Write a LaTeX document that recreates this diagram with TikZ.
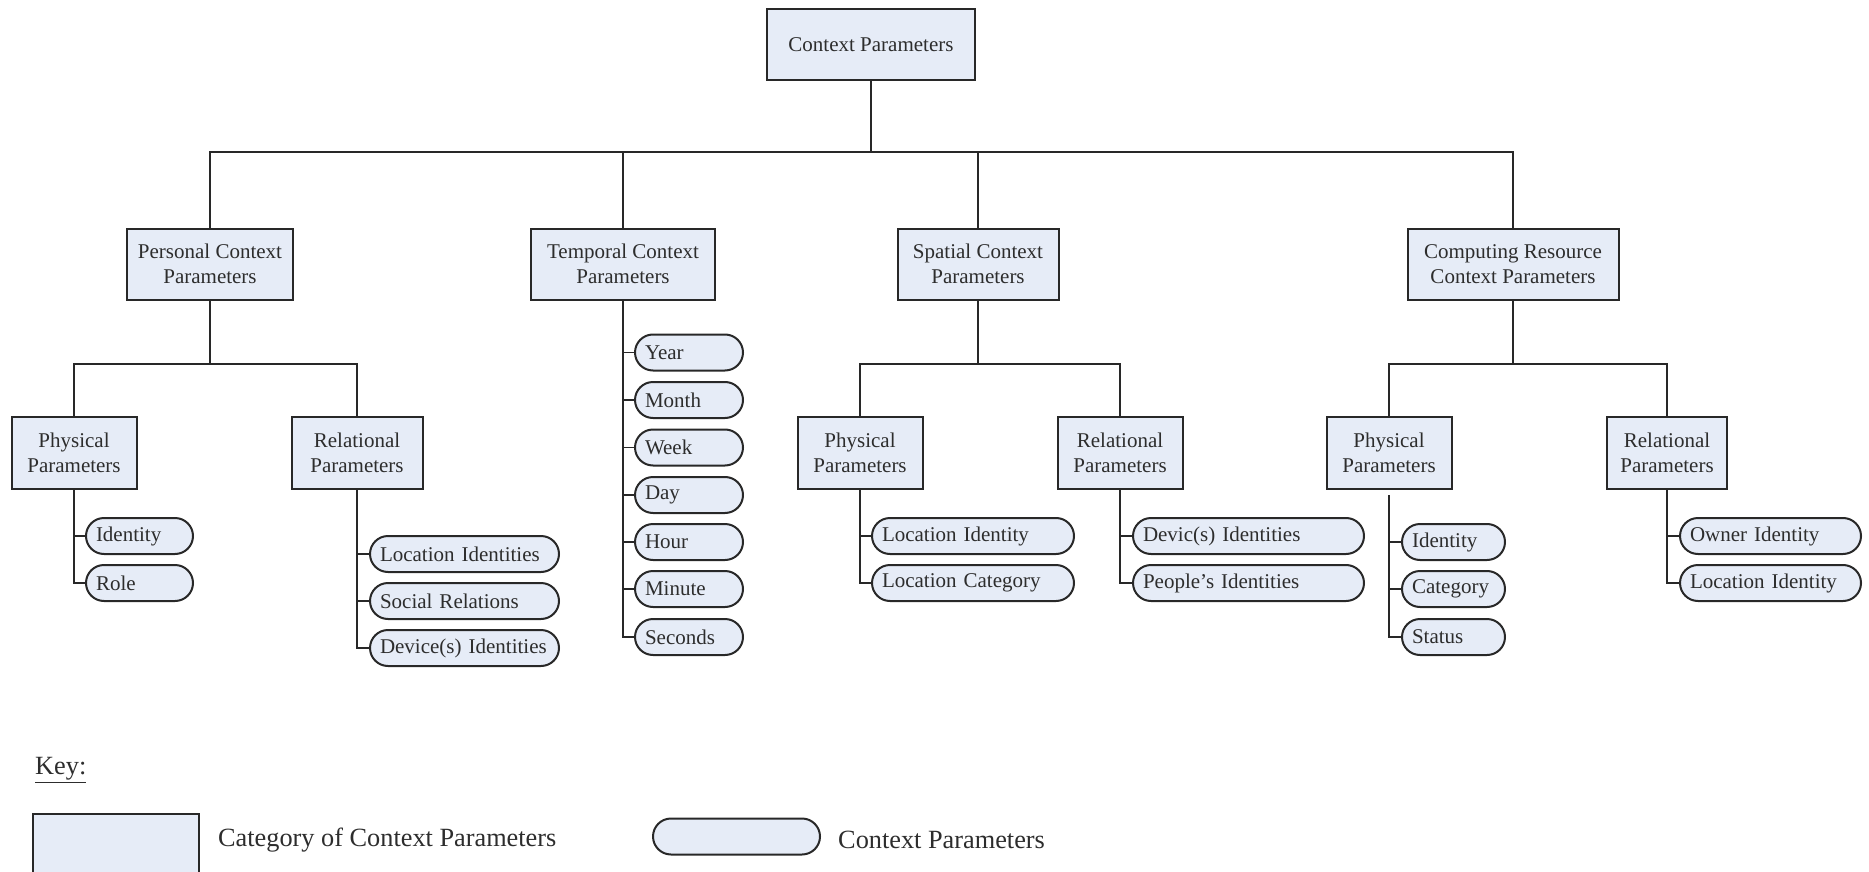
\documentclass[tikz,border=0pt]{standalone}
\usepackage{fontspec}
\setmainfont{Liberation Serif}
\definecolor{boxfill}{RGB}{230,236,247}
\definecolor{edge}{RGB}{40,40,40}
\definecolor{ink}{RGB}{45,45,45}
\begin{document}
\begin{tikzpicture}[x=1pt,y=-1pt,
  txt/.style={text=ink, font=\fontsize{21}{25}\selectfont},
  cat/.style={txt, draw=edge, fill=boxfill, line width=2pt, align=center,
    minimum height=71pt, minimum width=#1, inner sep=2pt},
  pill/.style={txt, draw=edge, fill=boxfill, line width=2pt, rounded corners=18pt,
    minimum height=36pt, anchor=west, inner xsep=10pt, inner ysep=0pt,
    text width=#1, align=left},
  label/.style={text=ink, font=\fontsize{26.3}{30}\selectfont, inner sep=0pt, anchor=west},
  link/.style={draw=edge, line width=1.8pt}
]
\useasboundingbox (0,0) rectangle (1869,872);
\clip (0,0) rectangle (1869,872);

% root and first level
\node[cat=208pt] (top) at (871,45) {Context Parameters};
\node[cat=166pt] (pers) at (210,264) {Personal Context\\Parameters};
\node[cat=184pt] (temp) at (623,264) {Temporal Context\\Parameters};
\node[cat=161pt] (spat) at (978,264) {Spatial Context\\Parameters};
\node[cat=211pt] (comp) at (1513,264) {Computing Resource\\Context Parameters};

% second level
\node[cat=125pt, minimum height=72pt] (pphys) at (74,453) {Physical\\Parameters};
\node[cat=131pt, minimum height=72pt] (prel) at (357,453) {Relational\\Parameters};
\node[cat=125pt, minimum height=72pt] (sphys) at (860,453) {Physical\\Parameters};
\node[cat=125pt, minimum height=72pt] (srel) at (1120,453) {Relational\\Parameters};
\node[cat=125pt, minimum height=72pt] (cphys) at (1389,453) {Physical\\Parameters};
\node[cat=120pt, minimum height=72pt] (crel) at (1667,453) {Relational\\Parameters};

% temporal parameters
\node[pill=88pt] (t1) at (634,352.5) {Year};
\node[pill=88pt] (t2) at (634,400) {Month};
\node[pill=88pt] (t3) at (634,447.5) {Week};
\node[pill=88pt] (t4) at (634,495) {Day};
\node[pill=88pt] (t5) at (634,542) {Hour};
\node[pill=88pt] (t6) at (634,589) {Minute};
\node[pill=88pt] (t7) at (634,637) {Seconds};

% personal parameters
\node[pill=87pt] (pp1) at (85,536) {Identity};
\node[pill=87pt] (pp2) at (85,583) {Role};
\node[pill=169pt] (pr1) at (369,554) {Location Identities};
\node[pill=169pt] (pr2) at (369,601) {Social Relations};
\node[pill=169pt] (pr3) at (369,648) {Device(s) Identities};

% spatial parameters
\node[pill=182pt] (sp1) at (871,536) {Location Identity};
\node[pill=182pt] (sp2) at (871,583) {Location Category};
\node[pill=211pt] (sr1) at (1132,536) {Devic(s) Identities};
\node[pill=211pt] (sr2) at (1132,583) {People’s Identities};

% computing resource parameters
\node[pill=83pt] (cp1) at (1401,542) {Identity};
\node[pill=83pt] (cp2) at (1401,589) {Category};
\node[pill=83pt] (cp3) at (1401,637) {Status};
\node[pill=161pt] (cr1) at (1679,536) {Owner Identity};
\node[pill=161pt] (cr2) at (1679,583) {Location Identity};

% tree connectors
\coordinate (bus) at (871,152);
\coordinate (bus2) at (0,364);
\draw[link] (top.south) -- (top.south |- bus);
\draw[link] (pers.north) -- (pers.north |- bus) -- (comp.north |- bus) -- (comp.north);
\draw[link] (temp.north) -- (temp.north |- bus);
\draw[link] (spat.north) -- (spat.north |- bus);

\draw[link] (pers.south) -- (pers.south |- bus2);
\draw[link] (pphys.north) -- (pphys.north |- bus2) -- (prel.north |- bus2) -- (prel.north);
\draw[link] (spat.south) -- (spat.south |- bus2);
\draw[link] (sphys.north) -- (sphys.north |- bus2) -- (srel.north |- bus2) -- (srel.north);
\draw[link] (comp.south) -- (comp.south |- bus2);
\draw[link] (cphys.north) -- (cphys.north |- bus2) -- (crel.north |- bus2) -- (crel.north);

% parameter spines
\draw[link] (temp.south) |- (t7.west);
\foreach \i in {1,...,6} \draw[link] (temp.south |- t\i.west) -- (t\i.west);
\draw[link] (pphys.south) |- (pp2.west);
\draw[link] (pphys.south |- pp1.west) -- (pp1.west);
\draw[link] (prel.south) |- (pr3.west);
\foreach \i in {1,2} \draw[link] (prel.south |- pr\i.west) -- (pr\i.west);
\draw[link] (sphys.south) |- (sp2.west);
\draw[link] (sphys.south |- sp1.west) -- (sp1.west);
\draw[link] (srel.south) |- (sr2.west);
\draw[link] (srel.south |- sr1.west) -- (sr1.west);
\draw[link] ([yshift=-5pt]cphys.south) |- (cp3.west);
\foreach \i in {1,2} \draw[link] (cphys.south |- cp\i.west) -- (cp\i.west);
\draw[link] (crel.south) |- (cr2.west);
\draw[link] (crel.south |- cr1.west) -- (cr1.west);

% key
\node[label] (keyhead) at (35,770) {\underline{Key:}};
\node[cat=166pt, minimum height=75pt, anchor=north west] (keybox) at (32,813) {};
\node[label] (keycat) at (218,840) {Category of Context Parameters};
\node[pill=147pt] (keypill) at (652,836.5) {};
\node[label] (keypar) at (838,840) {Context Parameters};
\end{tikzpicture}
\end{document}
